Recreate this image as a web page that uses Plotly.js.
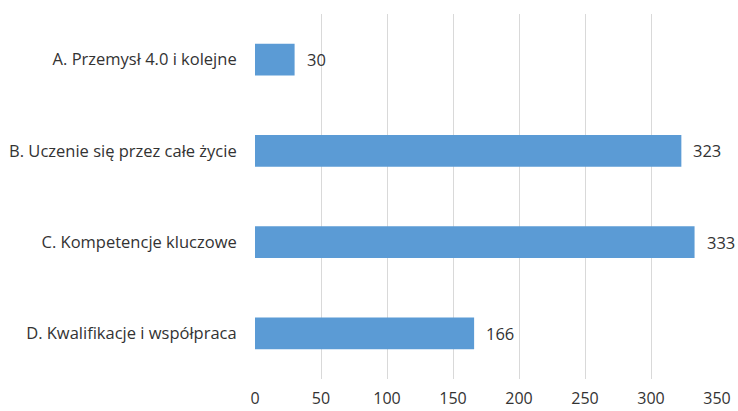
<!DOCTYPE html>
<html><head><meta charset="utf-8">
<script src="https://cdn.plot.ly/plotly-3.0.1.min.js"></script>
<style>html,body{margin:0;padding:0;background:#fff}#chart{width:738px;height:411px}</style>
</head><body><div id="chart"></div>
<script>
const categories = ["A. Przemysł 4.0 i kolejne", "B. Uczenie się przez całe życie", "C. Kompetencje kluczowe", "D. Kwalifikacje i współpraca"];
const values = [30, 323, 333, 166];
const xTicks = [0, 50, 100, 150, 200, 250, 300, 350];

const font = {family: "'Open Sans', sans-serif", size: 16.5, color: "#333333"};

const trace = {
  type: "bar", orientation: "h",
  x: values, y: categories,
  marker: {color: "#5B9BD5"},
  width: 0.35,
  hoverinfo: "none"
};

const annotations = values.map((v, i) => ({
  x: v, y: categories[i], xref: "x", yref: "y",
  text: String(v), showarrow: false, xanchor: "left", xshift: 10,
  font: font
}));

const layout = {
  width: 738, height: 411,
  margin: {l: 255, r: 21, t: 14, b: 32},
  paper_bgcolor: "#fff", plot_bgcolor: "#fff",
  showlegend: false,
  font: font,
  xaxis: {
    range: [0, 350], tickvals: xTicks, ticktext: xTicks.map(String),
    tickfont: {family: "'Open Sans', sans-serif", size: 16, color: "#333333"},
    showgrid: true, gridcolor: "#D9D9D9", gridwidth: 1,
    zeroline: false, showline: false,
    ticks: "outside", ticklen: 5, tickcolor: "rgba(0,0,0,0)",
    fixedrange: true
  },
  yaxis: {
    autorange: "reversed", showgrid: false, zeroline: false, showline: false,
    ticks: "outside", ticklen: 14, tickcolor: "rgba(0,0,0,0)",
    fixedrange: true
  },
  annotations: annotations
};

Plotly.newPlot("chart", [trace], layout, {displayModeBar: false, staticPlot: true});
</script></body></html>
